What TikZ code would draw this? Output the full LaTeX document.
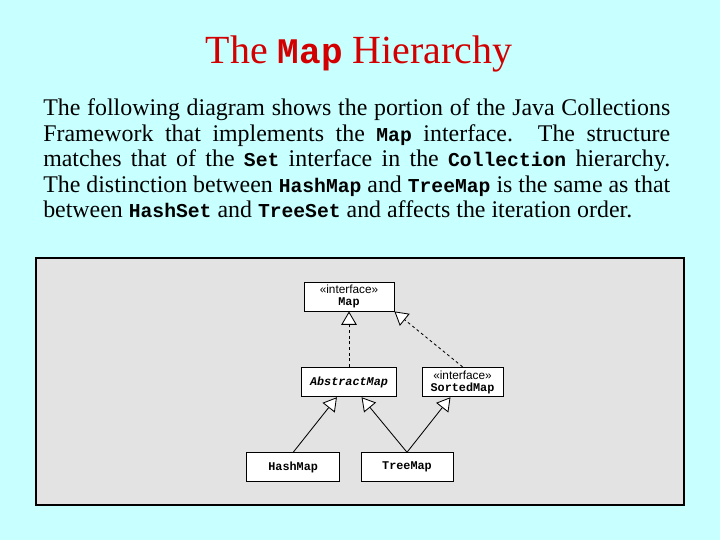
\documentclass[tikz,border=0pt]{standalone}
\usepackage{fontspec}
\setmainfont{Liberation Serif}
\setsansfont{Liberation Sans}
\setmonofont{Liberation Mono}
\usetikzlibrary{arrows.meta, positioning}
\definecolor{celeste}{RGB}{200,255,255}
\definecolor{grigio}{RGB}{227,227,227}
\definecolor{rosso}{RGB}{210,0,0}
\newcommand{\codice}[1]{{\fontsize{14pt}{14pt}\selectfont\ttfamily\bfseries #1}}

\begin{document}
\begin{tikzpicture}[
  classe/.style={draw=black, line width=0.6pt, fill=white, inner sep=0pt,
    minimum height=0.74cm, align=center,
    font=\fontsize{8.4pt}{8.6pt}\selectfont},
  eredita/.style={draw=black, line width=0.6pt,
    -{Triangle[open, fill=white, length=9.5pt, width=11pt]}},
  realizza/.style={eredita, dash pattern=on 2pt off 2pt}
]

% Sfondo e pannello
\fill[celeste] (0,0) rectangle (18,13.5);
\draw[fill=grigio, line width=0.9pt] (0.9,0.875) rectangle (17.1,7.05);
\useasboundingbox (0,0) rectangle (18,13.5);

% Titolo e testo
\node[anchor=base, inner sep=0pt, text=rosso,
  font=\fontsize{28.4pt}{30pt}\selectfont] (titolo) at (8.975,11.91)
  {The {\fontsize{25.6pt}{26pt}\selectfont\ttfamily\bfseries Map} Hierarchy};
\node[anchor=north west, inner sep=0pt, text width=15.675cm, align=justify,
  font=\fontsize{17pt}{18.2pt}\selectfont] (testo) at (1.075,11.04)
  {The following diagram shows the portion of the Java Collections\linebreak
   Framework that implements the \codice{Map} interface.  The structure\linebreak
   matches that of the \codice{Set} interface in the \codice{Collection} hierarchy.\linebreak
   The distinction between \codice{HashMap} and \codice{TreeMap} is the same as that\linebreak
   between \codice{HashSet} and \codice{TreeSet} and affects the iteration order.};

% Classi
\node[classe, minimum width=2.25cm, minimum height=0.725cm] (map) at (8.725,6.0875)
  {\sffamily «interface»\\\ttfamily\bfseries Map};
\node[classe, minimum width=2.375cm] (abstract) at (8.725,3.95)
  {\ttfamily\bfseries\itshape AbstractMap};
\node[classe, minimum width=2.025cm] (sorted) at (11.5625,3.95)
  {\sffamily «interface»\\\ttfamily\bfseries SortedMap};
\node[classe, minimum width=2.33cm, minimum height=0.725cm] (hash) at (7.33,1.82)
  {\ttfamily\bfseries HashMap};
\node[classe, minimum width=2.3cm, minimum height=0.725cm] (tree) at (10.175,1.82)
  {\ttfamily\bfseries TreeMap};

% Relazioni
\draw[realizza] (abstract.north) -- (map.south);
\draw[realizza] (sorted.north) -- (map.south east);
\draw[eredita] (hash.north) -- (abstract);
\draw[eredita] (tree.north) -- (abstract);
\draw[eredita] (tree.north) -- (sorted);

\end{tikzpicture}
\end{document}
